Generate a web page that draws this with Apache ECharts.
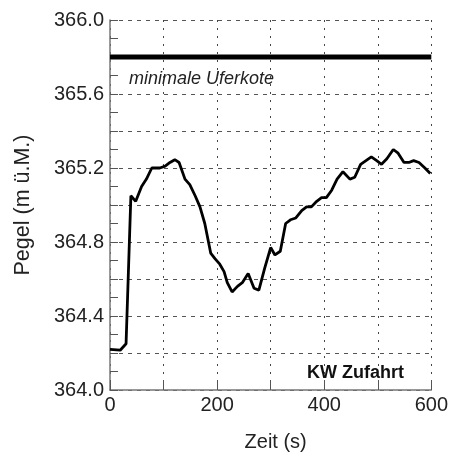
<!DOCTYPE html>
<html>
<head>
<meta charset="utf-8">
<script src="https://cdn.jsdelivr.net/npm/echarts@6/dist/echarts.min.js"></script>
<style>
  html, body { margin: 0; padding: 0; background: #fff; }
  #chart { width: 451px; height: 457px; }
</style>
</head>
<body>
<div id="chart"></div>
<script>
// Zeit (s) und Pegel (m ü.M.)
var zeit = [0, 19, 30, 39, 48, 59, 68, 78, 93, 103, 112, 121, 129, 140, 149, 159, 168, 177, 188, 196,
  205, 213, 219, 228, 238, 247, 258, 269, 278, 289, 300, 308, 318, 328, 337, 347, 358, 367, 376, 386,
  395, 404, 414, 424, 435, 448, 457, 468, 478, 488, 498, 507, 517, 529, 538, 549, 558, 567, 577, 588, 598];
var pegel = [364.22, 364.215, 364.25, 365.05, 365.02, 365.10, 365.14, 365.20, 365.20, 365.21,
  365.23, 365.245, 365.23, 365.14, 365.11, 365.05, 364.99, 364.90, 364.74, 364.71,
  364.68, 364.64, 364.58, 364.53, 364.56, 364.58, 364.63, 364.55, 364.54, 364.66,
  364.77, 364.73, 364.75, 364.90, 364.92, 364.93, 364.97, 364.99, 364.99, 365.02,
  365.04, 365.04, 365.08, 365.14, 365.18, 365.14, 365.15, 365.22, 365.24, 365.26,
  365.24, 365.22, 365.25, 365.30, 365.28, 365.23, 365.23, 365.24, 365.23, 365.20, 365.17];
var uferkote = 365.8;
var xTicks = [0, 200, 400, 600];
var yTicks = [364.0, 364.4, 364.8, 365.2, 365.6, 366.0];

var chart = echarts.init(document.getElementById("chart"));
var font = "Liberation Sans, Arial, sans-serif";
var option = {
  animation: false,
  grid: { left: 110, right: 19, top: 20, bottom: 59 },
  xAxis: {
    type: "value",
    min: 0,
    max: 600,
    interval: 100,
    name: "Zeit (s)",
    nameLocation: "middle",
    nameGap: 42,
    nameTextStyle: { fontFamily: font, fontSize: 20, color: "#222", padding: [0, 0, 0, 10] },
    axisLine: { show: true, lineStyle: { color: "#777", width: 1.5 } },
    axisTick: { show: true, inside: true, length: 10, lineStyle: { color: "#555" } },
    axisLabel: {
      margin: 5,
      fontFamily: font,
      fontSize: 20,
      color: "#222",
      formatter: function (v) {
        return xTicks.indexOf(v) >= 0 ? String(v) : "";
      }
    },
    splitLine: { show: true, lineStyle: { color: "#444", type: [2, 6], width: 1 } }
  },
  yAxis: {
    type: "value",
    min: 364,
    max: 366,
    interval: 0.2,
    name: "Pegel (m ü.M.)",
    nameLocation: "middle",
    nameGap: 76,
    nameTextStyle: { fontFamily: font, fontSize: 21.5, color: "#222" },
    axisLine: { show: true, lineStyle: { color: "#777", width: 1.5 } },
    axisTick: { show: true, inside: true, length: 8, lineStyle: { color: "#555" } },
    minorTick: { show: true, splitNumber: 2, length: 8, lineStyle: { color: "#555" } },
    axisLabel: {
      margin: 6,
      fontFamily: font,
      fontSize: 20,
      color: "#222",
      formatter: function (v) {
        var ok = yTicks.some(function (t) { return Math.abs(t - v) < 1e-6; });
        return ok ? v.toFixed(1) : "";
      }
    },
    splitLine: { show: true, lineStyle: { color: "#555", type: [4, 5], width: 1 } }
  },
  series: [
    {
      type: "line",
      data: zeit.map(function (t, i) { return [t, pegel[i]]; }),
      showSymbol: false,
      lineStyle: { color: "#000", width: 2.8 },
      z: 5
    },
    {
      type: "line",
      data: [[0, uferkote], [600, uferkote]],
      showSymbol: false,
      lineStyle: { color: "#000", width: 5 },
      z: 5
    }
  ],
  graphic: [
    {
      type: "text",
      left: 129,
      top: 70,
      style: { text: "minimale Uferkote", fontFamily: font, fontSize: 18, fontStyle: "italic", fill: "#222" }
    },
    {
      type: "text",
      left: 307,
      top: 364,
      style: { text: "KW Zufahrt", fontFamily: font, fontSize: 18, fontWeight: "bold", fill: "#111" }
    }
  ]
};
chart.setOption(option);
window.addEventListener("resize", () => {
  chart.resize();
});
</script>
</body>
</html>
